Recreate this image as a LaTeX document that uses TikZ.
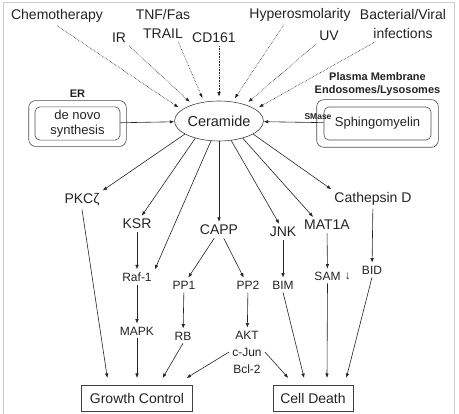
\documentclass[tikz,border=0pt]{standalone}
\usepackage{fontspec}
\setmainfont{Liberation Sans}
\usetikzlibrary{arrows.meta,positioning,shapes.geometric,calc,fit}
\definecolor{inkgray}{RGB}{35,35,35}
\definecolor{framegray}{RGB}{205,205,205}

\begin{document}
\begin{tikzpicture}[x=1pt, y=-1pt,
  big/.style={font=\fontsize{14}{19}\selectfont, inner sep=3pt, align=center, text=inkgray},
  small/.style={font=\fontsize{12}{17}\selectfont, inner sep=3pt, align=center, text=inkgray},
  title/.style={font=\fontsize{11}{13}\selectfont\bfseries, inner sep=2pt, align=center, text=inkgray},
  inbox/.style={draw=black!70, rounded corners=5pt, line width=0.6pt, align=center,
                font=\fontsize{13}{14.5}\selectfont, text=inkgray},
  outbox/.style={draw=black!70, rounded corners=7pt, line width=0.6pt},
  endbox/.style={draw=black!75, line width=0.6pt, minimum height=26pt, outer sep=7pt,
                 font=\fontsize{14}{17}\selectfont, text=inkgray},
  arr/.style={-{Latex[length=4.5pt,width=3.5pt]}, line width=0.6pt, inkgray},
  dotarr/.style={arr, densely dotted, shorten >=4pt}
]
\useasboundingbox (0,0) rectangle (459,414);
\draw[framegray, line width=0.8pt] (3,414) -- (3,2) -- (454,2) -- (454,414);

% triggers
\node[big] (chemo) at (57,16) {Chemotherapy};
\node[big] (ir) at (119,38) {IR};
\node[big] (tnf) at (163,24) {TNF/Fas\\TRAIL};
\node[big] (cd161) at (214,38) {CD161};
\node[big] (hyper) at (300,15) {Hyperosmolarity};
\node[big] (uv) at (329,36) {UV};
\node[big] (bact) at (403,24) {Bacterial/Viral\\infections};

% ceramide and its sources
\node[ellipse, draw=black!75, line width=0.6pt, minimum width=78pt, minimum height=40pt,
      inner sep=0pt, font=\fontsize{14.5}{17}\selectfont, text=inkgray] (cer) at (219,121) {Ceramide};
\node[inbox, minimum width=85pt, minimum height=33pt] (denovo) at (77.5,123.5) {de novo\\synthesis};
\node[outbox, fit=(denovo), inner sep=6pt] (erbox) {};
\node[title, above=1pt of erbox] (er) {ER};
\node[inbox, minimum width=107pt, minimum height=33pt] (sph) at (377.5,123.5) {Sphingomyelin};
\node[outbox, fit=(sph), inner sep=7pt] (pmbox) {};
\node[title, above=1pt of pmbox] (pm) {Plasma Membrane\\Endosomes/Lysosomes};
\node[font=\fontsize{8.5}{10}\selectfont\bfseries, inner sep=0pt, text=inkgray] (smase) at (318,117) {SMase};

% first targets
\node[big] (pkc) at (82,200) {PKCζ};
\node[big] (ksr) at (137,224) {KSR};
\node[big] (capp) at (219,230) {CAPP};
\node[big] (jnk) at (283,232) {JNK};
\node[big] (mat) at (327,225) {MAT1A};
\node[big] (cath) at (373,199) {Cathepsin D};

% second level
\node[small] (raf) at (137,277) {Raf-1};
\node[small] (pp1) at (184,285) {PP1};
\node[small] (pp2) at (248,285) {PP2};
\node[small] (bim) at (283,285) {BIM};
\node[small, label={[small, inner sep=0pt, xshift=1pt]right:↓}] (sam) at (327.5,276) {SAM};
\node[small] (bid) at (372,270) {BID};
\node[small] (mapk) at (137,331) {MAPK};
\node[small] (rb) at (183,336) {RB};
\node[small] (akt) at (247,352) {AKT\\c-Jun\\Bcl-2};

% outcomes
\node[endbox, minimum width=111pt] (growth) at (137,398) {Growth Control};
\node[endbox, minimum width=80pt] (death) at (313,398) {Cell Death};

% inducers
\draw[dotarr] (chemo.south) -- (cer.163);
\draw[dotarr] (ir.south east) -- (cer.148);
\draw[dotarr] ($(tnf.south)!0.5!(tnf.south east)$) -- (cer.128);
\draw[dotarr] (cd161.south -| cer) -- (cer.north);
\draw[dotarr] ($(hyper.south)!0.3!(hyper.south west)$) -- (cer.55);
\draw[dotarr] (uv.south west) -- (cer.32);
\draw[dotarr] ($(bact.south)!0.6!(bact.south west)$) -- (cer.18);
\draw[arr] (denovo) -- (cer);
\draw[arr] (sph) -- (cer);

% ceramide targets
\draw[arr] (cer.201) -- (pkc.north east);
\draw[arr] (cer.216) -- (ksr.60);
\draw[arr] (cer.248) -- (raf.north east);
\draw[arr] (cer.south) -- (capp.north);
\draw[arr] (cer.302) -- (jnk.115);
\draw[arr] (cer.324) -- (mat.150);
\draw[arr] (cer.339) -- (cath.north west);

\draw[arr] (ksr) -- (raf);
\draw[arr] (capp.240) -- (pp1.60);
\draw[arr] (capp.300) -- (pp2.120);
\draw[arr] (jnk) -- (bim);
\draw[arr] (mat) -- (sam);
\draw[arr] (cath) -- (bid);
\draw[arr] (raf) -- (mapk);
\draw[arr] (pp1) -- (rb);
\draw[arr] (pp2) -- (akt);

% to outcomes
\draw[arr] (pkc.south) -- (growth.146);
\draw[arr] (mapk) -- (growth);
\draw[arr] (rb.south) -- (growth.38);
\draw[arr] (akt.west) -- (growth.22);
\draw[arr] (akt.east) -- (death.141);
\draw[arr] (bim.south) -- (death.114);
\draw[arr] (sam.south) -- (death.55);
\draw[arr] (bid.south) -- (death.31);
\end{tikzpicture}
\end{document}
